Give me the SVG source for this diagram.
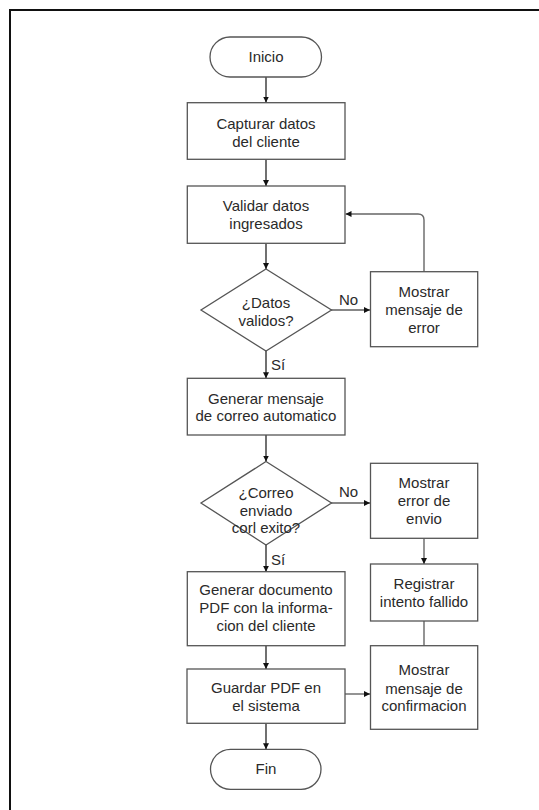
<svg xmlns="http://www.w3.org/2000/svg" width="539" height="810" viewBox="0 0 539 810">
<defs>
<style>
.n{fill:#fff;stroke:#555;stroke-width:1.3}
.t{font-family:"Liberation Sans",Arial,sans-serif;font-size:15px;fill:#2a2a2a;text-anchor:middle}
.l{font-family:"Liberation Sans",Arial,sans-serif;font-size:15px;fill:#2a2a2a}
.c{fill:none;stroke:#111;stroke-width:1.2}
.g{fill:none;stroke:#666;stroke-width:1.4}
</style>
<marker id="ah" viewBox="0 0 10 10" refX="10" refY="5" markerWidth="6" markerHeight="6" markerUnits="userSpaceOnUse" orient="auto">
<path d="M0,0 L10,5 L0,10 z" fill="#111"/>
</marker>
</defs>
<rect x="0" y="0" width="539" height="810" fill="#fff"/>
<rect x="10" y="10" width="540" height="820" fill="none" stroke="#111" stroke-width="2"/>

<g id="connectors">
<line class="c" x1="266" y1="77" x2="266" y2="102.5" marker-end="url(#ah)"/>
<line class="c" x1="266" y1="159.5" x2="266" y2="186" marker-end="url(#ah)"/>
<line class="c" x1="266" y1="243.5" x2="266" y2="269" marker-end="url(#ah)"/>
<line class="c" x1="331" y1="310" x2="370" y2="310" marker-end="url(#ah)"/>
<path class="g" d="M424,271.7 V220 Q424,214 418,214 H345.5" marker-end="url(#ah)"/>
<line class="c" x1="266" y1="351" x2="266" y2="378.3" marker-end="url(#ah)"/>
<line class="c" x1="266" y1="435" x2="266" y2="461.5" marker-end="url(#ah)"/>
<line class="c" x1="331" y1="503" x2="370" y2="503" marker-end="url(#ah)"/>
<line class="g" x1="424" y1="538.3" x2="424" y2="564" marker-end="url(#ah)"/>
<line class="g" x1="424" y1="621" x2="424" y2="645.7"/>
<line class="c" x1="266" y1="545" x2="266" y2="571.7" marker-end="url(#ah)"/>
<line class="c" x1="266" y1="645.7" x2="266" y2="669" marker-end="url(#ah)"/>
<line class="g" x1="345" y1="694" x2="370" y2="694" marker-end="url(#ah)"/>
<line class="c" x1="266" y1="723.3" x2="266" y2="749.3" marker-end="url(#ah)"/>
<line stroke="#444" stroke-width="1" x1="266" y1="504" x2="266" y2="520"/>
<text class="l" x="339" y="305">No</text>
<text class="l" x="339" y="497">No</text>
<text class="l" x="271" y="370">Sí</text>
<text class="l" x="271" y="565">Sí</text>
</g>

<g id="inicio">
<rect class="n" x="210" y="37" width="111.5" height="40" rx="20" ry="20"/>
<text class="t" x="266" y="62">Inicio</text>
</g>
<g id="capturar">
<rect class="n" x="187.3" y="102.7" width="157.7" height="56.6"/>
<text class="t" x="266" y="128.5">Capturar datos</text>
<text class="t" x="266" y="146.5">del cliente</text>
</g>
<g id="validar">
<rect class="n" x="187.3" y="186" width="157.7" height="57.3"/>
<text class="t" x="266" y="210.5">Validar datos</text>
<text class="t" x="266" y="228.5">ingresados</text>
</g>
<g id="datos-validos">
<polygon class="n" points="266,269 331.5,310 266,351 201,310"/>
<text class="t" x="266" y="307.5">¿Datos</text>
<text class="t" x="266" y="325.5">validos?</text>
</g>
<g id="mostrar-error">
<rect class="n" x="370.5" y="271.7" width="107.2" height="75"/>
<text class="t" x="424" y="297">Mostrar</text>
<text class="t" x="424" y="315">mensaje de</text>
<text class="t" x="424" y="333">error</text>
</g>
<g id="generar-mensaje">
<rect class="n" x="187.3" y="378.3" width="157.7" height="56.7"/>
<text class="t" x="266" y="403.5">Generar mensaje</text>
<text class="t" x="266" y="421">de correo automatico</text>
</g>
<g id="correo-enviado">
<polygon class="n" points="266,461.5 331.5,503 266,545 201,503"/>
<text class="t" x="266" y="497.5">¿Correo</text>
<text class="t" x="266" y="515.5">enviado</text>
<text class="t" x="266" y="533">corl exito?</text>
</g>
<g id="mostrar-error-envio">
<rect class="n" x="370.5" y="463.3" width="107.2" height="75"/>
<text class="t" x="424" y="488">Mostrar</text>
<text class="t" x="424" y="506">error de</text>
<text class="t" x="424" y="523.5">envio</text>
</g>
<g id="registrar">
<rect class="n" x="370.5" y="564" width="107.2" height="57"/>
<text class="t" x="424" y="589">Registrar</text>
<text class="t" x="424" y="606.5">intento fallido</text>
</g>
<g id="generar-pdf">
<rect class="n" x="187.3" y="571.7" width="157.7" height="74"/>
<text class="t" x="266" y="595">Generar documento</text>
<text class="t" x="266" y="613">PDF con la informa-</text>
<text class="t" x="266" y="631">cion del cliente</text>
</g>
<g id="mostrar-confirmacion">
<rect class="n" x="370.5" y="645.7" width="107.2" height="83.6"/>
<text class="t" x="424" y="675">Mostrar</text>
<text class="t" x="424" y="693.5">mensaje de</text>
<text class="t" x="424" y="711">confirmacion</text>
</g>
<g id="guardar">
<rect class="n" x="187" y="669" width="158" height="54.3"/>
<text class="t" x="266" y="693">Guardar PDF en</text>
<text class="t" x="266" y="711">el sistema</text>
</g>
<g id="fin">
<rect class="n" x="210.5" y="749.3" width="110.5" height="40" rx="20" ry="20"/>
<text class="t" x="266" y="774">Fin</text>
</g>
</svg>
